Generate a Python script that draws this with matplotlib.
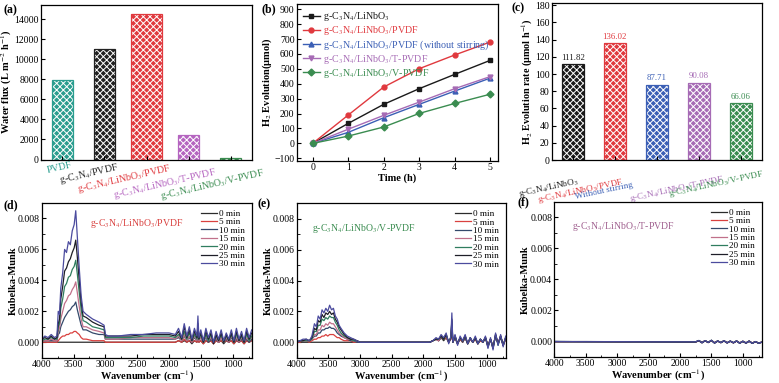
import matplotlib
matplotlib.use("Agg")
import matplotlib.pyplot as plt
from matplotlib.ticker import MultipleLocator, FormatStrFormatter
import matplotlib.transforms as mtransforms

plt.rcParams['font.family'] = ['Liberation Serif', 'DejaVu Serif']
plt.rcParams['mathtext.fontset'] = 'stix'
plt.rcParams['hatch.linewidth'] = 0.7

CN = 'g-C$_3$N$_4$'
LN = 'LiNbO$_3$'

# ---- (a) water flux ----
flux_labels = ['PVDF', f'{CN}/PVDF', f'{CN}/{LN}/PVDF', f'{CN}/{LN}/T-PVDF', f'{CN}/{LN}/V-PVDF']
flux_values = [7950, 11000, 14500, 2400, 100]
flux_colors = ['#2a9d8f', '#222222', '#e0393e', '#b565c0', '#3a8c50']

# ---- (b) H2 evolution vs time ----
time_h = [0, 1, 2, 3, 4, 5]
h2_series = {
    f'{CN}/{LN}': [0, 134, 262, 367, 463, 557],
    f'{CN}/{LN}/PVDF': [0, 190, 378, 501, 593, 680],
    f'{CN}/{LN}/PVDF (without stirring)': [0, 74, 172, 262, 351, 438],
    f'{CN}/{LN}/T-PVDF': [0, 95, 188, 277, 367, 448],
    f'{CN}/{LN}/V-PVDF': [0, 49, 110, 201, 268, 330],
}
h2_colors = ['#1a1a1a', '#e0393e', '#3b5fb5', '#a66bb5', '#3a8c50']
h2_markers = ['s', 'o', '^', 'v', 'D']

# ---- (c) H2 evolution rate ----
rate_labels = [f'{CN}/{LN}', f'{CN}/{LN}/PVDF', 'Without stirring', f'{CN}/{LN}/T-PVDF', f'{CN}/{LN}/V-PVDF']
rate_values = [111.82, 136.02, 87.71, 90.08, 66.06]
rate_colors = ['#1a1a1a', '#e0393e', '#3b5fb5', '#a66bb5', '#3a8c50']

# ---- spectra ----
times = ['0 min', '5 min', '10 min', '15 min', '20 min', '25 min', '30 min']
spec_colors = ['#2b2b2b', '#d9413f', '#34496b', '#c0708a', '#2f7d5f', '#1e1e28', '#4b4b9e']

wn_d = [4000, 3950, 3900, 3850, 3800, 3760, 3740, 3720, 3700, 3670, 3640, 3610, 3580, 3550, 3520,
        3490, 3465, 3440, 3410, 3380, 3350, 3300, 3200, 3100, 3020, 3000, 2950, 2800, 2600, 2400,
        2200, 2000, 1900, 1850, 1800, 1760, 1720, 1680, 1640, 1600, 1560, 1545, 1530, 1500, 1460,
        1420, 1380, 1340, 1300, 1260, 1220, 1180, 1140, 1100, 1060, 1020, 980, 940, 900, 860,
        820, 780, 740, 700]
d_0 = [0.0000] * 33 + [0.0001, 0.0000, 0.0001, 0.0000, 0.0001, -0.0001, 0.0001, 0.0000, 0.0002,
                       0.0000, 0.0001, -0.0001, 0.0001, 0.0000, 0.0001, -0.0001, 0.0001, 0.0000,
                       0.0001, -0.0001, 0.0001, 0.0000, 0.0001, -0.0001, 0.0001, 0.0000, 0.0001,
                       -0.0001, 0.0001, 0.0000, 0.0001]
d_5 = [0.0000, 0.0000, 0.0000, 0.0000, 0.0000, 0.0000, 0.0001, 0.0002, 0.0003, 0.0004, 0.0004,
       0.0005, 0.0005, 0.0006, 0.0006, 0.0007, 0.0007, 0.0006, 0.0005, 0.0003, 0.0002, 0.0002,
       0.0001, 0.0001, 0.0001, 0.0000, 0.0000, 0.0000, 0.0000, 0.0000, 0.0000, 0.0000, 0.0000,
       0.0001, 0.0000, 0.0002, 0.0000, 0.0001, 0.0000, 0.0001, 0.0000, 0.0002, 0.0000, 0.0001,
       -0.0001, 0.0001, 0.0000, 0.0001, -0.0001, 0.0001, 0.0000, 0.0001, 0.0000, 0.0001, 0.0000,
       0.0001, -0.0001, 0.0001, 0.0000, 0.0001, -0.0001, 0.0001, 0.0000, 0.0001]
d_10 = [0.0001, 0.0001, 0.0001, 0.0001, 0.0001, 0.0001, 0.0005, 0.0006, 0.0010, 0.0013, 0.0016,
        0.0018, 0.0020, 0.0021, 0.0023, 0.0024, 0.0026, 0.0021, 0.0016, 0.0011, 0.0008, 0.0008,
        0.0006, 0.0005, 0.0005, 0.0002, 0.0002, 0.0002, 0.0002, 0.0002, 0.0002, 0.0002, 0.0002,
        0.0003, 0.0001, 0.0004, 0.0001, 0.0003, 0.0000, 0.0003, 0.0001, 0.0005, 0.0001, 0.0003,
        0.0000, 0.0003, 0.0000, 0.0002, 0.0000, 0.0002, 0.0000, 0.0003, 0.0000, 0.0002, 0.0000,
        0.0003, 0.0000, 0.0002, 0.0000, 0.0002, 0.0000, 0.0002, 0.0000, 0.0002]
d_15 = [0.0001, 0.0001, 0.0001, 0.0002, 0.0001, 0.0001, 0.0007, 0.0009, 0.0015, 0.0020, 0.0025,
        0.0027, 0.0030, 0.0031, 0.0034, 0.0036, 0.0039, 0.0032, 0.0023, 0.0015, 0.0010, 0.0010,
        0.0008, 0.0007, 0.0006, 0.0002, 0.0002, 0.0002, 0.0003, 0.0003, 0.0003, 0.0003, 0.0002,
        0.0004, 0.0001, 0.0005, 0.0001, 0.0004, 0.0000, 0.0004, 0.0001, 0.0006, 0.0001, 0.0003,
        0.0000, 0.0004, 0.0001, 0.0003, 0.0000, 0.0003, 0.0000, 0.0003, 0.0000, 0.0003, 0.0000,
        0.0004, 0.0000, 0.0003, 0.0000, 0.0003, 0.0000, 0.0003, 0.0001, 0.0003]
d_20 = [0.0001, 0.0002, 0.0002, 0.0003, 0.0002, 0.0002, 0.0010, 0.0012, 0.0022, 0.0028, 0.0036,
        0.0038, 0.0042, 0.0043, 0.0047, 0.0049, 0.0053, 0.0044, 0.0032, 0.0021, 0.0014, 0.0013,
        0.0010, 0.0009, 0.0008, 0.0003, 0.0003, 0.0003, 0.0003, 0.0004, 0.0004, 0.0004, 0.0003,
        0.0005, 0.0002, 0.0007, 0.0002, 0.0006, 0.0001, 0.0005, 0.0002, 0.0009, 0.0002, 0.0005,
        0.0000, 0.0005, 0.0001, 0.0005, 0.0000, 0.0004, 0.0001, 0.0005, 0.0000, 0.0004, 0.0001,
        0.0005, 0.0000, 0.0005, 0.0001, 0.0004, 0.0000, 0.0005, 0.0001, 0.0004]
d_25 = [0.0002, 0.0003, 0.0002, 0.0004, 0.0002, 0.0003, 0.0012, 0.0015, 0.0028, 0.0036, 0.0046,
        0.0048, 0.0052, 0.0054, 0.0058, 0.0061, 0.0066, 0.0055, 0.0040, 0.0026, 0.0017, 0.0016,
        0.0013, 0.0011, 0.0010, 0.0004, 0.0004, 0.0004, 0.0004, 0.0005, 0.0005, 0.0005, 0.0004,
        0.0007, 0.0002, 0.0010, 0.0003, 0.0008, 0.0001, 0.0007, 0.0003, 0.0012, 0.0002, 0.0006,
        0.0000, 0.0007, 0.0002, 0.0006, -0.0001, 0.0005, 0.0001, 0.0006, 0.0000, 0.0005, 0.0001,
        0.0006, 0.0000, 0.0007, 0.0001, 0.0005, 0.0000, 0.0007, 0.0002, 0.0006]
d_30 = [0.0002, 0.0004, 0.0003, 0.0005, 0.0003, 0.0004, 0.0020, 0.0018, 0.0035, 0.0045, 0.0060,
        0.0058, 0.0065, 0.0063, 0.0072, 0.0076, 0.0085, 0.0068, 0.0048, 0.0030, 0.0020, 0.0018,
        0.0015, 0.0013, 0.0011, 0.0005, 0.0004, 0.0004, 0.0005, 0.0005, 0.0006, 0.0006, 0.0005,
        0.0009, 0.0003, 0.0012, 0.0004, 0.0010, 0.0002, 0.0009, 0.0004, 0.0017, 0.0003, 0.0008,
        0.0001, 0.0009, 0.0003, 0.0008, 0.0000, 0.0007, 0.0002, 0.0008, 0.0001, 0.0006, 0.0002,
        0.0008, 0.0001, 0.0009, 0.0002, 0.0007, 0.0001, 0.0009, 0.0003, 0.0008]
spec_d = [d_0, d_5, d_10, d_15, d_20, d_25, d_30]

wn_e = [4000, 3950, 3900, 3850, 3800, 3760, 3720, 3690, 3660, 3630, 3600, 3570, 3540, 3510, 3480,
        3450, 3420, 3390, 3360, 3330, 3300, 3250, 3200, 3150, 3100, 3050, 3000, 2800, 2500, 2200,
        2000, 1900, 1850, 1800, 1760, 1720, 1680, 1640, 1600, 1565, 1550, 1535, 1500, 1460, 1420,
        1380, 1340, 1300, 1260, 1220, 1180, 1140, 1100, 1060, 1020, 980, 940, 900, 860, 820,
        780, 740, 700]
e_0 = [0.0000] * 32 + [0.0001, 0.0002, 0.0001, 0.0003, 0.0001, 0.0003, 0.0000, 0.0002, 0.0010,
                       0.0000, 0.0003, -0.0001, 0.0002, 0.0000, 0.0003, -0.0001, 0.0002, 0.0000,
                       0.0002, -0.0001, 0.0001, 0.0000, 0.0003, -0.0002, 0.0002, -0.0003, 0.0004,
                       -0.0001, 0.0003, -0.0002, 0.0002]
e_5 = [0.0000, 0.0000, 0.0001, 0.0001, 0.0000, 0.0001, 0.0002, 0.0002, 0.0003, 0.0003, 0.0004,
       0.0004, 0.0005, 0.0004, 0.0005, 0.0005, 0.0005, 0.0004, 0.0003, 0.0003, 0.0002, 0.0001,
       0.0001, 0.0001, 0.0000, 0.0000, 0.0000, 0.0000, 0.0000, 0.0000, 0.0000, 0.0000, 0.0001,
       0.0002, 0.0001, 0.0003, 0.0002, 0.0003, 0.0000, 0.0002, 0.0011, 0.0000, 0.0003, -0.0001,
       0.0002, 0.0000, 0.0003, -0.0001, 0.0002, 0.0000, 0.0002, -0.0001, 0.0001, 0.0000, 0.0003,
       -0.0002, 0.0002, -0.0003, 0.0004, -0.0001, 0.0004, -0.0002, 0.0002]
e_10 = [0.0000, 0.0001, 0.0001, 0.0001, 0.0001, 0.0002, 0.0004, 0.0004, 0.0006, 0.0006, 0.0008,
        0.0008, 0.0009, 0.0009, 0.0010, 0.0009, 0.0009, 0.0008, 0.0006, 0.0005, 0.0004, 0.0003,
        0.0002, 0.0001, 0.0001, 0.0000, 0.0000, 0.0000, 0.0000, 0.0000, 0.0000, 0.0000, 0.0001,
        0.0002, 0.0001, 0.0003, 0.0002, 0.0004, 0.0000, 0.0003, 0.0012, 0.0000, 0.0003, -0.0001,
        0.0003, 0.0000, 0.0003, -0.0001, 0.0002, 0.0000, 0.0003, -0.0001, 0.0002, 0.0000, 0.0003,
        -0.0002, 0.0002, -0.0003, 0.0004, -0.0001, 0.0004, -0.0002, 0.0003]
e_15 = [0.0000, 0.0001, 0.0001, 0.0001, 0.0001, 0.0002, 0.0005, 0.0005, 0.0008, 0.0008, 0.0011,
        0.0010, 0.0012, 0.0011, 0.0013, 0.0012, 0.0012, 0.0010, 0.0008, 0.0006, 0.0005, 0.0003,
        0.0002, 0.0002, 0.0001, 0.0001, 0.0000, 0.0000, 0.0000, 0.0000, 0.0000, 0.0000, 0.0001,
        0.0002, 0.0001, 0.0004, 0.0002, 0.0004, 0.0000, 0.0003, 0.0013, 0.0000, 0.0004, -0.0001,
        0.0003, 0.0001, 0.0004, -0.0001, 0.0002, 0.0000, 0.0003, -0.0001, 0.0002, 0.0000, 0.0003,
        -0.0003, 0.0002, -0.0004, 0.0005, -0.0001, 0.0004, -0.0002, 0.0003]
e_20 = [0.0000, 0.0001, 0.0001, 0.0001, 0.0001, 0.0002, 0.0007, 0.0007, 0.0011, 0.0011, 0.0015,
        0.0014, 0.0016, 0.0015, 0.0017, 0.0016, 0.0016, 0.0013, 0.0011, 0.0008, 0.0006, 0.0004,
        0.0003, 0.0002, 0.0001, 0.0001, 0.0000, 0.0000, 0.0000, 0.0000, 0.0000, 0.0000, 0.0001,
        0.0002, 0.0002, 0.0004, 0.0002, 0.0005, 0.0000, 0.0003, 0.0014, 0.0000, 0.0004, -0.0001,
        0.0003, 0.0001, 0.0004, -0.0001, 0.0003, 0.0000, 0.0003, -0.0001, 0.0002, 0.0000, 0.0003,
        -0.0003, 0.0002, -0.0004, 0.0005, -0.0002, 0.0004, -0.0002, 0.0003]
e_25 = [0.0000, 0.0001, 0.0001, 0.0002, 0.0001, 0.0003, 0.0009, 0.0008, 0.0014, 0.0013, 0.0018,
        0.0016, 0.0019, 0.0018, 0.0020, 0.0018, 0.0019, 0.0015, 0.0013, 0.0010, 0.0008, 0.0005,
        0.0003, 0.0002, 0.0002, 0.0001, 0.0000, 0.0000, 0.0000, 0.0000, 0.0000, 0.0000, 0.0001,
        0.0002, 0.0002, 0.0004, 0.0002, 0.0005, 0.0000, 0.0003, 0.0015, 0.0000, 0.0004, -0.0001,
        0.0003, 0.0001, 0.0004, -0.0001, 0.0003, 0.0000, 0.0003, -0.0001, 0.0002, 0.0000, 0.0003,
        -0.0003, 0.0002, -0.0004, 0.0005, -0.0001, 0.0004, -0.0002, 0.0003]
e_30 = [0.0000, 0.0001, 0.0002, 0.0002, 0.0001, 0.0004, 0.0012, 0.0010, 0.0017, 0.0015, 0.0021,
        0.0019, 0.0022, 0.0020, 0.0024, 0.0021, 0.0022, 0.0017, 0.0015, 0.0011, 0.0009, 0.0006,
        0.0004, 0.0003, 0.0002, 0.0001, 0.0000, 0.0000, 0.0000, 0.0000, 0.0000, 0.0000, 0.0001,
        0.0003, 0.0002, 0.0005, 0.0003, 0.0006, -0.0001, 0.0004, 0.0019, 0.0000, 0.0005, -0.0002,
        0.0004, 0.0001, 0.0005, -0.0001, 0.0003, 0.0000, 0.0004, -0.0001, 0.0002, 0.0000, 0.0004,
        -0.0004, 0.0003, -0.0005, 0.0006, -0.0002, 0.0005, -0.0003, 0.0004]
spec_e = [e_0, e_5, e_10, e_15, e_20, e_25, e_30]

wn_f = [4000, 3500, 3000, 2500, 2000, 1750, 1700, 1650, 1600, 1550, 1500, 1450, 1400, 1350,
        1300, 1250, 1200, 1150, 1100, 1050, 1000, 950, 900, 850, 800, 750, 700]
f_0 = [-0.00002, -0.00002, -0.00003, -0.00003, -0.00004, -0.00004, 0.00002, -0.00008, 0.00003,
       -0.00007, 0.00004, -0.00009, 0.00001, -0.00008, 0.00002, -0.00009, 0.00000, -0.00009,
       0.00001, -0.00010, -0.00001, -0.00010, 0.00000, -0.00011, -0.00003, -0.00011, -0.00006]
f_5 = [-0.00003, -0.00003, -0.00003, -0.00004, -0.00004, -0.00004, 0.00003, -0.00009, 0.00004,
       -0.00008, 0.00005, -0.00010, 0.00002, -0.00009, 0.00003, -0.00010, 0.00001, -0.00010,
       0.00002, -0.00011, 0.00000, -0.00011, 0.00001, -0.00012, -0.00002, -0.00012, -0.00006]
f_10 = [-0.00002, -0.00003, -0.00003, -0.00003, -0.00004, -0.00004, 0.00004, -0.00009, 0.00003,
        -0.00008, 0.00006, -0.00011, 0.00002, -0.00008, 0.00003, -0.00010, 0.00001, -0.00010,
        0.00002, -0.00012, 0.00000, -0.00011, 0.00001, -0.00013, -0.00002, -0.00012, -0.00007]
f_15 = [-0.00003, -0.00003, -0.00004, -0.00004, -0.00004, -0.00005, 0.00004, -0.00010, 0.00004,
        -0.00009, 0.00005, -0.00011, 0.00001, -0.00009, 0.00003, -0.00011, 0.00000, -0.00011,
        0.00001, -0.00012, -0.00001, -0.00012, 0.00000, -0.00013, -0.00003, -0.00012, -0.00007]
f_20 = [-0.00002, -0.00003, -0.00003, -0.00004, -0.00004, -0.00004, 0.00005, -0.00010, 0.00004,
        -0.00008, 0.00006, -0.00012, 0.00002, -0.00009, 0.00003, -0.00011, 0.00001, -0.00010,
        0.00002, -0.00013, 0.00000, -0.00012, 0.00001, -0.00014, -0.00002, -0.00013, -0.00006]
f_25 = [-0.00003, -0.00003, -0.00004, -0.00004, -0.00005, -0.00005, 0.00004, -0.00010, 0.00003,
        -0.00009, 0.00005, -0.00012, 0.00001, -0.00010, 0.00002, -0.00011, 0.00000, -0.00011,
        0.00001, -0.00013, -0.00001, -0.00013, 0.00000, -0.00014, -0.00003, -0.00013, -0.00007]
f_30 = [-0.00002, -0.00003, -0.00003, -0.00004, -0.00004, -0.00004, 0.00005, -0.00010, 0.00004,
        -0.00008, 0.00006, -0.00012, 0.00002, -0.00009, 0.00003, -0.00011, 0.00001, -0.00010,
        0.00002, -0.00013, 0.00000, -0.00012, 0.00001, -0.00014, -0.00002, -0.00013, -0.00006]
spec_f = [f_0, f_5, f_10, f_15, f_20, f_25, f_30]

W, H = 779, 383
fig = plt.figure(figsize=(W / 100, H / 100), dpi=100)


def px_axes(left, top, right, bottom):
    return fig.add_axes([left / W, 1 - bottom / H, (right - left) / W, (bottom - top) / H])


def style(ax):
    for s in ax.spines.values():
        s.set_linewidth(0.9)
    ax.tick_params(direction='in', length=3, width=0.8, labelsize=7, pad=1.5)
    ax.tick_params(which='minor', direction='in', length=1.8, width=0.6)


def hatched_bars(ax, xs, vals, colors, width):
    ax.bar(xs, vals, width=width, color=colors, edgecolor='white', hatch='xxxxx', linewidth=0)
    ax.bar(xs, vals, width=width, fill=False, edgecolor=colors, linewidth=0.9)


def slanted_labels(ax, ends, ys, labels, colors, rot, size):
    trans = mtransforms.blended_transform_factory(ax.transData, ax.transAxes)
    for xe, y, lab, c in zip(ends, ys, labels, colors):
        ax.text(xe, y, lab, transform=trans, ha='right', va='top', rotation=rot,
                rotation_mode='anchor', color=c, fontsize=size, clip_on=False)


# (a)
ax = px_axes(41, 5, 252, 159.5)
style(ax)
xa = list(range(len(flux_values)))
hatched_bars(ax, xa, flux_values, flux_colors, [0.5, 0.5, 0.75, 0.5, 0.5])
ax.set_xlim(-0.5, 4.5)
ax.set_ylim(0, 15400)
ax.yaxis.set_major_locator(MultipleLocator(2000))
ax.set_xticks(xa)
ax.set_xticklabels([])
slanted_labels(ax, [0.2, 1.3, 2.55, 3.62, 4.75], [-0.005, -0.01, -0.015, -0.04, -0.045],
               flux_labels, flux_colors, 13, 7.2)
ax.set_ylabel('Water flux (L m$^{-2}$ h$^{-1}$)', fontsize=7.5, fontweight='bold', labelpad=0.5)
fig.text(4 / W, 1 - 10 / H, '(a)', fontsize=8.5, fontweight='bold', va='center')

# (b)
ax = px_axes(296.7, 4, 498, 161)
style(ax)
for (name, vals), c, m in zip(h2_series.items(), h2_colors, h2_markers):
    ax.plot(time_h, vals, color=c, marker=m, markersize=3.5, linewidth=1, label=name)
ax.set_xlim(-0.45, 5.22)
ax.set_ylim(-118, 935)
ax.xaxis.set_major_locator(MultipleLocator(1))
ax.yaxis.set_major_locator(MultipleLocator(100))
ax.set_xlabel('Time (h)', fontsize=7.5, fontweight='bold', labelpad=1)
ax.set_ylabel('H$_2$ Evolution(μmol)', fontsize=7.5, fontweight='bold', labelpad=0)
leg = ax.legend(loc='upper left', bbox_to_anchor=(0.0, 1.0), frameon=False, fontsize=7.2,
                labelspacing=0.1, handlelength=1.7, handletextpad=0.3, borderaxespad=0.2)
for t, c in zip(leg.get_texts(), h2_colors):
    t.set_color(c)
fig.text(262 / W, 1 - 9 / H, '(b)', fontsize=8.5, fontweight='bold', va='center')

# (c)
ax = px_axes(551.7, 2.7, 761.7, 160)
style(ax)
xc = list(range(len(rate_values)))
hatched_bars(ax, xc, rate_values, rate_colors, 0.52)
for x, v, c in zip(xc, rate_values, rate_colors):
    ax.text(x, v + 2.5, f'{v:.2f}', ha='center', va='bottom', fontsize=6.3, color=c)
ax.set_xlim(-0.5, 4.5)
ax.set_ylim(0, 183)
ax.yaxis.set_major_locator(MultipleLocator(20))
ax.set_xticks(xc)
ax.set_xticklabels([])
slanted_labels(ax, [0.1, 1.17, 1.4, 3.57, 4.52], [-0.1, -0.105, -0.135, -0.085, -0.05],
               rate_labels, rate_colors, 12, 6.6)
ax.set_ylabel('H$_2$ Evolution rate (μmol h$^{-1}$)', fontsize=7.3, fontweight='bold', labelpad=0)
fig.text(512 / W, 1 - 8 / H, '(c)', fontsize=8.5, fontweight='bold', va='center')

# (d), (e), (f)
spec_panels = [
    ((41.7, 203, 251.7, 357.7), wn_d, spec_d, f'{CN}/{LN}/PVDF', '#d9413f', (0.23, 0.87), '(d)', (4, 205)),
    ((296.7, 203.3, 505.7, 357.7), wn_e, spec_e, f'{CN}/{LN}/V-PVDF', '#3a8c50', (0.075, 0.84), '(e)', (258, 204)),
    ((554.3, 202, 761.7, 356.7), wn_f, spec_f, f'{CN}/{LN}/T-PVDF', '#a0608f', (0.085, 0.84), '(f)', (517, 202)),
]
for box, wn, curves, title, tcol, tpos, tag, tagpos in spec_panels:
    ax = px_axes(*box)
    style(ax)
    for ys, lab, c in zip(curves, times, spec_colors):
        ax.plot(wn, ys, color=c, linewidth=0.9, label=lab)
    ax.set_xlim(4000, 700)
    ax.set_ylim(-0.001, 0.009)
    ax.xaxis.set_major_locator(MultipleLocator(500))
    ax.xaxis.set_minor_locator(MultipleLocator(250))
    ax.yaxis.set_major_locator(MultipleLocator(0.002))
    ax.yaxis.set_minor_locator(MultipleLocator(0.001))
    ax.yaxis.set_major_formatter(FormatStrFormatter('%.3f'))
    ax.set_xlabel('Wavenumber (cm$^{-1}$)', fontsize=7.5, fontweight='bold', labelpad=0)
    ax.set_ylabel('Kubelka-Munk', fontsize=7.5, fontweight='bold', labelpad=0)
    ax.text(tpos[0], tpos[1], title, transform=ax.transAxes, color=tcol, fontsize=7, va='center')
    ax.legend(loc='upper right', frameon=False, fontsize=6.6, labelspacing=0.0, handlelength=1.8,
              handletextpad=0.25, borderaxespad=0.3)
    fig.text(tagpos[0] / W, 1 - tagpos[1] / H, tag, fontsize=8.5, fontweight='bold', va='center')

fig.savefig('out.png', dpi=100)
